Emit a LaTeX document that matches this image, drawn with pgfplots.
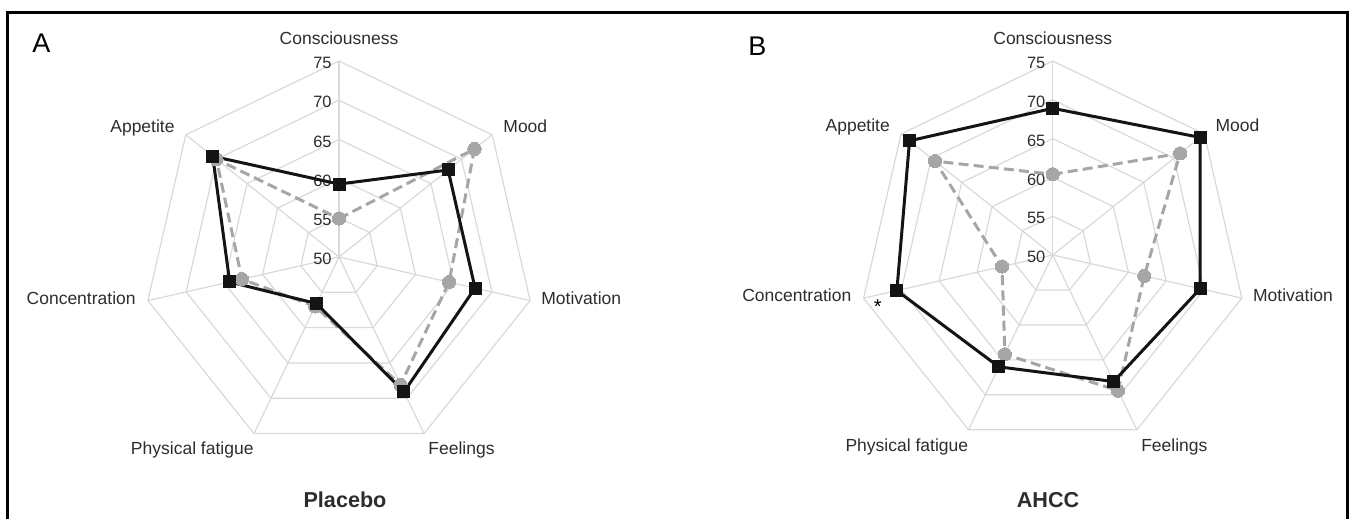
\documentclass[border=0pt]{standalone}
\usepackage{fontspec}
\setmainfont{Liberation Sans}
\usepackage{pgfplots}
\usepackage{pgfplotstable}
\pgfplotsset{compat=1.18}
\definecolor{gridc}{RGB}{217,217,217}
\definecolor{grays}{RGB}{166,166,166}
\definecolor{txt}{RGB}{45,45,45}

% angle (deg), gray dashed series, black solid series
% Consciousness, Mood, Motivation, Feelings, Physical fatigue, Concentration, Appetite, (Consciousness again to close)
\pgfplotstableread{
ang gray black
90 54.9 59.3
38.5714 72.1 67.8
-12.8571 64.4 67.8
-64.2857 68.1 69.1
-115.7143 57.0 56.6
-167.1429 62.7 64.3
141.4286 70.0 70.6
90 54.9 59.3
}\dataA

\pgfplotstableread{
ang gray black
90 60.4 68.9
38.5714 71.0 74.3
-12.8571 62.1 69.5
-64.2857 69.4 68.1
-115.7143 64.2 66.0
-167.1429 56.7 70.6
141.4286 69.4 73.6
90 60.4 68.9
}\dataB

\newcommand{\ringpt}[2]{(axis cs:{#1*cos(#2)},{#1*sin(#2)})}

\newcommand{\radarframe}{%
  \pgfplotsinvokeforeach{5,10,15,20,25}{%
    \draw[gridc, line width=0.6pt] \ringpt{##1}{90} -- \ringpt{##1}{38.5714} -- \ringpt{##1}{-12.8571} -- \ringpt{##1}{-64.2857} -- \ringpt{##1}{-115.7143} -- \ringpt{##1}{-167.1429} -- \ringpt{##1}{141.4286} -- cycle;
  }
  \pgfplotsinvokeforeach{90,38.5714,-12.8571,-64.2857,-115.7143,-167.1429,141.4286}{%
    \draw[gridc, line width=0.6pt] (axis cs:0,0) -- \ringpt{25}{##1};
  }
  \node[tick] at (axis cs:0,0) {50};
  \node[tick] at (axis cs:0,5) {55};
  \node[tick] at (axis cs:0,10) {60};
  \node[tick] at (axis cs:0,15) {65};
  \node[tick] at (axis cs:0,20) {70};
  \node[tick] at (axis cs:0,25) {75};
  \node[lab, anchor=base, yshift=8.2pt] at \ringpt{25}{90} {Consciousness};
  \node[lab, anchor=base west, xshift=5.4pt, yshift=1.25pt] at \ringpt{25}{38.5714} {Mood};
  \node[lab, anchor=base west, xshift=5.45pt, yshift=-1.85pt] at \ringpt{25}{-12.8571} {Motivation};
  \node[lab, anchor=base west, xshift=2pt, yshift=-10.7pt] at \ringpt{25}{-64.2857} {Feelings};
  \node[lab, anchor=base east, xshift=0pt, yshift=-10.7pt] at \ringpt{25}{-115.7143} {Physical fatigue};
  \node[lab, anchor=base east, xshift=-5.95pt, yshift=-1.85pt] at \ringpt{25}{-167.1429} {Concentration};
  \node[lab, anchor=base east, xshift=-5.4pt, yshift=1.25pt] at \ringpt{25}{141.4286} {Appetite};
}

\tikzset{
  tick/.style={anchor=east, inner sep=0pt, xshift=-3.5pt, yshift=-1pt, text=txt, font=\fontsize{8.2}{9.5}\selectfont},
  lab/.style={inner sep=0pt, text=txt, font=\fontsize{8.75}{10}\selectfont},
}

\pgfplotsset{
  radar/.style={hide axis, clip=false, xmin=-26, xmax=26, ymin=-26, ymax=26, anchor=center},
  grayser/.style={color=grays, line width=1.5pt, dash pattern=on 5pt off 2.6pt, mark=*, mark size=3.3pt, mark options={solid, fill=grays, draw=grays, line width=0pt}},
  blackser/.style={color=black!92, line width=1.5pt, solid, mark=square*, mark size=3pt, mark options={solid, fill=black!92, line width=0pt}},
}

\begin{document}
\begin{tikzpicture}
\path[use as bounding box] (0pt,0pt) rectangle (674.5pt,259.5pt);
\draw[line width=1.5pt, black] (3.9pt,0pt) -- (3.9pt,253.1pt) -- (673.9pt,253.1pt) -- (673.9pt,0pt);

\begin{axis}[radar, at={(169.5pt,131pt)}, x=3.92pt, y=3.92pt]
  \radarframe
  \addplot[grayser] table[x expr={(\thisrow{gray}-50)*cos(\thisrow{ang})}, y expr={(\thisrow{gray}-50)*sin(\thisrow{ang})}] {\dataA};
  \addplot[blackser] table[x expr={(\thisrow{black}-50)*cos(\thisrow{ang})}, y expr={(\thisrow{black}-50)*sin(\thisrow{ang})}] {\dataA};
\end{axis}

\begin{axis}[radar, at={(526.35pt,132pt)}, x=3.88pt, y=3.88pt]
  \radarframe
  \addplot[grayser] table[x expr={(\thisrow{gray}-50)*cos(\thisrow{ang})}, y expr={(\thisrow{gray}-50)*sin(\thisrow{ang})}] {\dataB};
  \addplot[blackser] table[x expr={(\thisrow{black}-50)*cos(\thisrow{ang})}, y expr={(\thisrow{black}-50)*sin(\thisrow{ang})}] {\dataB};
\end{axis}

\node[anchor=west, inner sep=0pt, font=\fontsize{13.5}{15}\selectfont] at (16pt,237.85pt) {A};
\node[anchor=west, inner sep=0pt, font=\fontsize{13.5}{15}\selectfont] at (374pt,236.35pt) {B};
\node[inner sep=0pt, font=\bfseries\fontsize{10.8}{12}\selectfont, text=txt] at (172.5pt,9.5pt) {Placebo};
\node[inner sep=0pt, font=\bfseries\fontsize{10.8}{12}\selectfont, text=txt] at (524pt,9.5pt) {AHCC};
\node[inner sep=0pt, font=\fontsize{10}{12}\selectfont] at (438.85pt,106pt) {*};
\end{tikzpicture}
\end{document}
